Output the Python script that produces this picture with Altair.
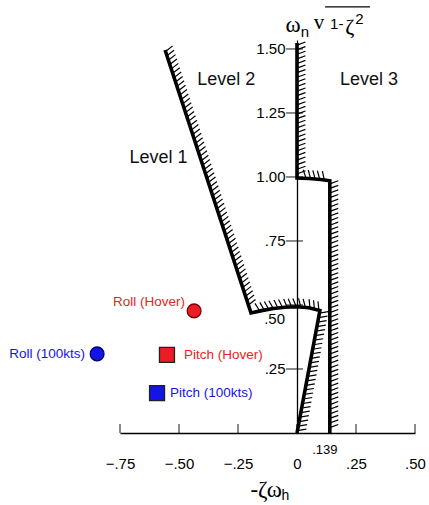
import altair as alt
import numpy as np
import pandas as pd

# ---------------- data ----------------
x_ticks = [-0.75, -0.50, -0.25, 0.0, 0.25, 0.50]
y_ticks = [0.25, 0.50, 0.75, 1.00, 1.25, 1.50]

# Level 1 / Level 2 boundary (straight part, arc near wn=0.5, diagonal back to origin)
lvl12_x = [-0.559, -0.195]
lvl12_y = [1.496, 0.469]
arc05_x = [-0.195, -0.15, -0.10, -0.05, 0.0, 0.05, 0.097]
arc05_y = [0.469, 0.478, 0.486, 0.491, 0.493, 0.489, 0.478]
diag_x = [0.097, 0.0]
diag_y = [0.478, 0.0]

# Level 2 / Level 3 boundary
upper_x = [0.0, 0.0]
upper_y = [1.523, 0.996]
arc10_x = [0.0, 0.05, 0.10, 0.139]
arc10_y = [0.996, 0.994, 0.990, 0.985]
lvl23_x = [0.139, 0.139]
lvl23_y = [0.985, 0.0]

marker_names = ["Roll (Hover)", "Pitch (Hover)", "Roll (100kts)", "Pitch (100kts)"]
marker_x = [-0.436, -0.551, -0.847, -0.593]
marker_y = [0.477, 0.305, 0.309, 0.156]
marker_shape = ["circle", "square", "circle", "square"]

region_names = ["Level 1", "Level 2", "Level 3"]
region_x = [-0.587, -0.300, 0.305]
region_y = [1.074, 1.378, 1.380]

# ---------------- geometry / styles ----------------
W, H = 295, 393
XDOM = [-0.75, 0.50]
YDOM = [0.0, 1.535]
SX = W / (XDOM[1] - XDOM[0])
SY = H / (YDOM[1] - YDOM[0])

RED = "#ec1c24"
BLUE = "#1414e6"
FONT = "Liberation Sans"
SERIF = "Liberation Serif"

xscale = alt.Scale(domain=XDOM, nice=False, zero=False)
yscale = alt.Scale(domain=YDOM, nice=False, zero=False)

xaxis = alt.Axis(values=x_ticks, ticks=False, grid=False, title=None,
                 labelExpr="datum.value == 0 ? '0' : replace(format(datum.value, '.2f'), '0.', '.')",
                 labelFont=FONT, labelFontSize=15, labelColor="black", labelPadding=23,
                 labelFlush=False, labelOverlap=False, domainColor="black", domainWidth=1.3)
yaxis = alt.Axis(values=[v for v in y_ticks if v != 0.5], ticks=False, grid=False, title=None,
                 labelExpr="datum.value < 1 ? replace(format(datum.value, '.2f'), '0.', '.') : format(datum.value, '.2f')",
                 labelFont=FONT, labelFontSize=15, labelColor="black", labelPadding=12,
                 labelFlush=False, labelOverlap=False, domainColor="black", domainWidth=1.3,
                 offset=-(0 - XDOM[0]) * SX)

X = alt.X("x:Q", scale=xscale, axis=xaxis)
Y = alt.Y("y:Q", scale=yscale, axis=yaxis)


def hatch_piece(xs, ys, start_margin=2.0, end_margin=2.0, spacing=4.6, length=9.0, angle=20.0):
    """Short slanted hatch strokes on the left side of the travel direction."""
    p = np.column_stack([np.array(xs) * SX, np.array(ys) * SY])
    seg = np.diff(p, axis=0)
    seglen = np.hypot(seg[:, 0], seg[:, 1])
    cum = np.concatenate([[0], np.cumsum(seglen)])
    total = cum[-1]
    a = np.radians(angle)
    rows = []
    for s in np.arange(start_margin, total - end_margin + 1e-9, spacing):
        i = min(np.searchsorted(cum, s, side="right") - 1, len(seg) - 1)
        t = seg[i] / seglen[i]
        pt = p[i] + t * (s - cum[i])
        n = np.array([-t[1], t[0]])
        d = np.array([n[0] * np.cos(a) - n[1] * np.sin(a), n[0] * np.sin(a) + n[1] * np.cos(a)])
        e = pt + length * d
        rows.append({"x": pt[0] / SX, "y": pt[1] / SY, "x2": e[0] / SX, "y2": e[1] / SY})
    return rows


hatch_rows = []
hatch_rows += hatch_piece(lvl12_x, lvl12_y, 1.5, 6.0)
hatch_rows += hatch_piece(arc05_x, arc05_y, 9.0, 1.0)
hatch_rows += hatch_piece(diag_x, diag_y, 2.5, 1.0)
hatch_rows += hatch_piece(upper_x, upper_y, 2.0, 4.0)
hatch_rows += hatch_piece(arc10_x, arc10_y, 9.0, 1.0)
hatch_rows += hatch_piece(lvl23_x, lvl23_y, 3.0, 1.0)
hatch_df = pd.DataFrame(hatch_rows)

line_rows = []
for g, (xs, ys) in enumerate([(lvl12_x + arc05_x[1:] + diag_x[1:], lvl12_y + arc05_y[1:] + diag_y[1:]),
                              (upper_x + arc10_x[1:] + lvl23_x[1:], upper_y + arc10_y[1:] + lvl23_y[1:])]):
    for k, (xv, yv) in enumerate(zip(xs, ys)):
        line_rows.append({"x": xv, "y": yv, "g": g, "o": k})
line_df = pd.DataFrame(line_rows)

# ---------------- layers ----------------
layers = []

# axis ticks
layers.append(alt.Chart(pd.DataFrame({"x": x_ticks, "y": [0.0] * len(x_ticks)})).mark_tick(
    orient="vertical", size=9, thickness=1.3, yOffset=-4.5, color="black").encode(x=X, y=Y))
layers.append(alt.Chart(pd.DataFrame({"x": [0.0] * len(y_ticks), "y": y_ticks})).mark_tick(
    orient="horizontal", size=17, thickness=1.3, xOffset=-2.5, color="black").encode(x=X, y=Y))

# hatches and boundaries
layers.append(alt.Chart(hatch_df).mark_rule(color="black", strokeWidth=1.2).encode(
    x=X, y=Y, x2="x2:Q", y2="y2:Q"))
layers.append(alt.Chart(line_df).mark_line(color="black", strokeWidth=3.6, strokeJoin="miter").encode(
    x=X, y=Y, detail="g:N", order="o:Q"))

# markers
mdf = pd.DataFrame({"x": marker_x, "y": marker_y, "name": marker_names, "shape": marker_shape,
                    "fill": [RED, RED, BLUE, BLUE],
                    "stroke": ["#7a0000", "#222222", "#00006a", "#222222"],
                    "size": [190, 225, 190, 225]})
layers.append(alt.Chart(mdf).mark_point(filled=True, opacity=1, strokeWidth=1.3).encode(
    x=X, y=Y,
    shape=alt.Shape("shape:N", scale=None),
    fill=alt.Fill("fill:N", scale=None),
    stroke=alt.Stroke("stroke:N", scale=None),
    size=alt.Size("size:Q", scale=None)))

label_style = [("right", -9, -9, RED), ("left", 17, 0, RED), ("right", -12, 0, BLUE), ("left", 13, 0, BLUE)]
for i, (al, dx, dy, col) in enumerate(label_style):
    layers.append(alt.Chart(mdf.iloc[[i]]).mark_text(
        align=al, baseline="middle", dx=dx, dy=dy, font=FONT, fontSize=13.5, color=col).encode(
        x=X, y=Y, text="name:N"))

# region labels
rdf = pd.DataFrame({"x": region_x, "y": region_y, "t": region_names})
layers.append(alt.Chart(rdf).mark_text(font=FONT, fontSize=18, color="#111111", baseline="middle").encode(
    x=X, y=Y, text="t:N"))


def txt(x, y, t, **kw):
    base = dict(baseline="middle", color="black")
    base.update(kw)
    return alt.Chart(pd.DataFrame({"x": [x], "y": [y], "t": [t]})).mark_text(**base).encode(
        x=X, y=Y, text="t:N")


# ".50" label shifted below the arc, ".139"
layers.append(txt(0.0, 0.5, ".50", align="right", dx=-12, dy=14, font=FONT, fontSize=15))
layers.append(txt(0.139, 0.0, ".139", align="center", dx=-5, dy=17, font=FONT, fontSize=13))

# y title: omega_n sqrt(1 - zeta^2)
layers.append(txt(-0.017, 1.594, "\u03c9", font=SERIF, fontSize=23))
layers.append(txt(0.034, 1.566, "n", font=FONT, fontSize=15))
layers.append(txt(0.093, 1.600, "v", font=SERIF, fontSize=21))
layers.append(txt(0.140, 1.598, "1-", align="left", font=FONT, fontSize=15))
layers.append(txt(0.224, 1.586, "\u03b6", font=SERIF, fontSize=22))
layers.append(txt(0.265, 1.618, "2", font=FONT, fontSize=15))
layers.append(alt.Chart(pd.DataFrame({"x": [0.119], "x2": [0.309], "y": [1.664]})).mark_rule(
    color="black", strokeWidth=1.2).encode(x=X, x2="x2:Q", y=Y))

# x title: -zeta omega_h
layers.append(txt(-0.064, -0.223, "-\u03b6\u03c9", align="right", font=SERIF, fontSize=23))
layers.append(txt(-0.066, -0.245, "h", align="left", font=FONT, fontSize=14))

chart = alt.layer(*layers).properties(
    width=W, height=H,
    autosize=alt.AutoSizeParams(type="none"),
    padding={"left": 120, "top": 40, "right": 14, "bottom": 72},
    background="white",
).configure_view(stroke=None)

chart.save("out.html", embed_options={"renderer": "svg", "actions": False})
